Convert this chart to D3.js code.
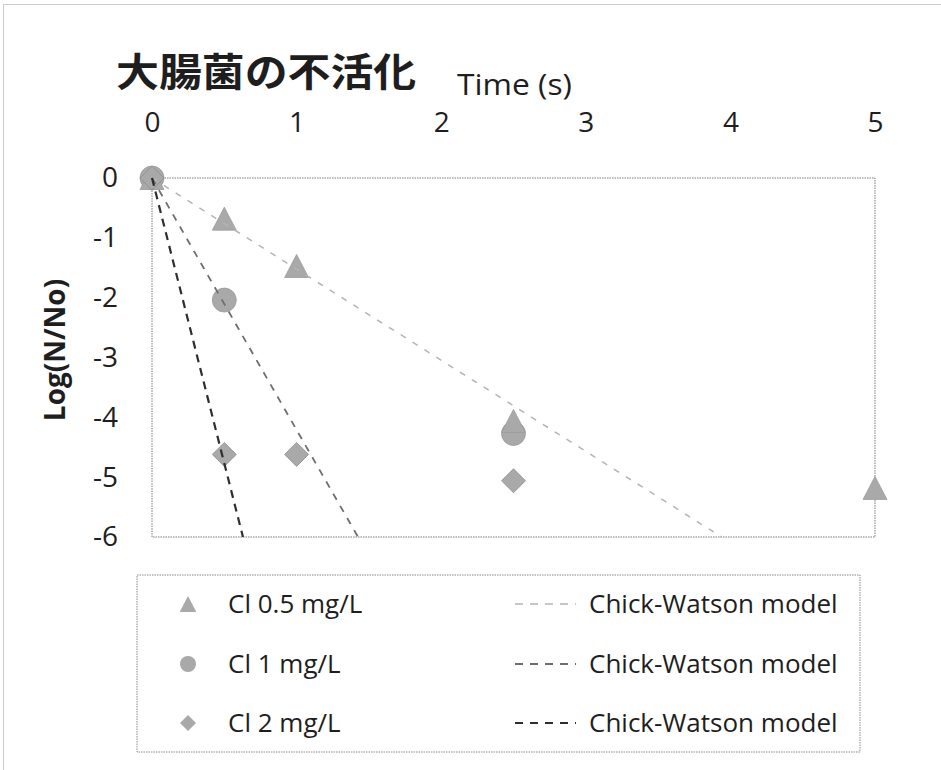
<!DOCTYPE html>
<html>
<head>
<meta charset="utf-8">
<script src="https://cdn.jsdelivr.net/npm/d3@7/dist/d3.min.js"></script>
<style>
  html, body { margin: 0; padding: 0; background: #fff; }
  svg { display: block; }
</style>
</head>
<body>
<svg id="chart" width="941" height="770"></svg>
<script>
// ---- data ----
const titleText = "大腸菌の不活化";
const xTitle = "Time (s)";
const yTitle = "Log(N/No)";
const xTicks = [0, 1, 2, 3, 4, 5];
const yTicks = [0, -1, -2, -3, -4, -5, -6];
const seriesNames = ["Cl 0.5 mg/L", "Cl 1 mg/L", "Cl 2 mg/L"];
const modelName = "Chick-Watson model";

const time05 = [0, 0.5, 1, 2.5, 5];
const log05  = [0, -0.68, -1.47, -4.06, -5.18];
const time1  = [0, 0.5, 2.5];
const log1   = [0, -2.04, -4.27];
const time2  = [0, 0.5, 1, 2.5];
const log2   = [0, -4.62, -4.62, -5.06];

// Chick-Watson model lines: start and end points (time, log)
const modelTime05 = [0, 3.94];
const modelLog05  = [0, -6];
const modelTime1  = [0, 1.425];
const modelLog1   = [0, -6];
const modelTime2  = [0, 0.629];
const modelLog2   = [0, -6];

// ---- layout ----
const svg = d3.select("#chart");
const W = 941, H = 770;
const plot = { left: 152, right: 875, top: 178, bottom: 537 };
const font = "'Open Sans', 'Noto Sans', sans-serif";
const textColor = "#1e1e1e";
const markerFill = "#a9a9a9";

const x = d3.scaleLinear().domain([0, 5]).range([plot.left, plot.right]);
const y = d3.scaleLinear().domain([0, -6]).range([plot.top, plot.bottom]);

// outer (chart area) dotted border, only top and left visible
svg.append("rect")
  .attr("x", 3.5).attr("y", 4.5)
  .attr("width", W + 20).attr("height", H + 20)
  .attr("fill", "none").attr("stroke", "#9a9a9a")
  .attr("stroke-width", 1).attr("stroke-dasharray", "1,1");

// plot area border
svg.append("rect")
  .attr("x", plot.left).attr("y", plot.top)
  .attr("width", plot.right - plot.left).attr("height", plot.bottom - plot.top)
  .attr("fill", "none").attr("stroke", "#7a7a7a")
  .attr("stroke-width", 1).attr("stroke-dasharray", "1.5,1");

// x axis (top)
const xAxis = svg.append("g")
  .attr("transform", `translate(0,${plot.top})`)
  .call(d3.axisTop(x).tickValues(xTicks).tickSize(0).tickPadding(46).tickFormat(d3.format("d")));
xAxis.select(".domain").remove();
xAxis.selectAll("text")
  .attr("font-family", font).attr("font-size", 28).attr("fill", textColor);

// y axis (left)
const yAxis = svg.append("g")
  .attr("transform", `translate(${plot.left},0)`)
  .call(d3.axisLeft(y).tickValues(yTicks).tickSize(0).tickPadding(34).tickFormat(d => String(d)));
yAxis.select(".domain").remove();
yAxis.selectAll("text")
  .attr("font-family", font).attr("font-size", 28).attr("fill", textColor);

// title
svg.append("text")
  .attr("transform", "translate(116,86) scale(1.1,1)")
  .attr("font-family", "'Noto Sans CJK JP', 'Noto Sans CJK SC', sans-serif")
  .attr("font-weight", "bold").attr("font-size", 39).attr("fill", textColor)
  .text(titleText);

// x title
svg.append("text")
  .attr("transform", "translate(457,95) scale(1.06,1)")
  .attr("font-family", font).attr("font-size", 30).attr("fill", textColor)
  .text(xTitle);

// y title
svg.append("text")
  .attr("transform", "translate(54,350) rotate(-90)")
  .attr("text-anchor", "middle").attr("dominant-baseline", "central")
  .attr("font-family", font).attr("font-weight", "bold").attr("font-size", 28)
  .attr("fill", textColor)
  .text(yTitle);

// ---- markers ----
const zip = (ts, vs) => ts.map((t, i) => ({ t: t, v: vs[i] }));
const triPath = (cx, cy, s) => `M${cx},${cy - s}L${cx + s * 1.04},${cy + s}L${cx - s * 1.04},${cy + s}Z`;
const diaPath = (cx, cy, s) => `M${cx},${cy - s}L${cx + s},${cy}L${cx},${cy + s}L${cx - s},${cy}Z`;

const gMarks = svg.append("g");
gMarks.selectAll("circle.s1").data(zip(time1, log1)).join("circle")
  .attr("class", "s1")
  .attr("cx", d => x(d.t)).attr("cy", d => y(d.v)).attr("r", 12)
  .attr("fill", markerFill).attr("stroke", "#9a9a9a").attr("stroke-width", 0.8);
gMarks.selectAll("path.s05").data(zip(time05, log05)).join("path")
  .attr("class", "s05")
  .attr("d", d => triPath(x(d.t), y(d.v), 11.5))
  .attr("fill", markerFill).attr("stroke", "#9a9a9a").attr("stroke-width", 0.8);
gMarks.selectAll("path.s2").data(zip(time2, log2)).join("path")
  .attr("class", "s2")
  .attr("d", d => diaPath(x(d.t), y(d.v), 12))
  .attr("fill", markerFill).attr("stroke", "#8e8e8e").attr("stroke-width", 0.8);

// ---- model lines ----
const modelStyles = [
  { color: "#b4b4b4", width: 1.5, dash: "6,8" },
  { color: "#6e6e6e", width: 1.8, dash: "7,7" },
  { color: "#2e2e2e", width: 2.2, dash: "8,6" }
];
const modelData = [
  zip(modelTime05, modelLog05),
  zip(modelTime1, modelLog1),
  zip(modelTime2, modelLog2)
];
const line = d3.line().x(d => x(d.t)).y(d => y(d.v));
svg.append("g").selectAll("path").data(modelData).join("path")
  .attr("d", line)
  .attr("fill", "none")
  .attr("stroke", (d, i) => modelStyles[i].color)
  .attr("stroke-width", (d, i) => modelStyles[i].width)
  .attr("stroke-dasharray", (d, i) => modelStyles[i].dash);

// ---- legend ----
const legend = { left: 137, right: 860, top: 575, bottom: 752 };
svg.append("rect")
  .attr("x", legend.left).attr("y", legend.top)
  .attr("width", legend.right - legend.left).attr("height", legend.bottom - legend.top)
  .attr("fill", "none").attr("stroke", "#8a8a8a")
  .attr("stroke-width", 1).attr("stroke-dasharray", "1.5,1");

const rowY = [604, 664, 723];
const lg = svg.append("g");
// markers
lg.append("path").attr("d", triPath(188, rowY[0], 8)).attr("fill", markerFill);
lg.append("circle").attr("cx", 188).attr("cy", rowY[1]).attr("r", 8).attr("fill", markerFill);
lg.append("path").attr("d", diaPath(188, rowY[2], 8)).attr("fill", markerFill);
// labels
lg.selectAll("text.sname").data(seriesNames).join("text")
  .attr("class", "sname")
  .attr("x", 228).attr("y", (d, i) => rowY[i] + 9)
  .attr("font-family", font).attr("font-size", 26).attr("fill", textColor)
  .text(d => d);
// line samples
lg.selectAll("line.sample").data(modelStyles).join("line")
  .attr("class", "sample")
  .attr("x1", 515).attr("x2", 576)
  .attr("y1", (d, i) => rowY[i]).attr("y2", (d, i) => rowY[i])
  .attr("stroke", d => d.color).attr("stroke-width", d => d.width)
  .attr("stroke-dasharray", "8,7");
lg.selectAll("text.mname").data(modelStyles).join("text")
  .attr("class", "mname")
  .attr("x", 589).attr("y", (d, i) => rowY[i] + 9)
  .attr("font-family", font).attr("font-size", 26).attr("fill", textColor)
  .text(modelName);
</script>
</body>
</html>
